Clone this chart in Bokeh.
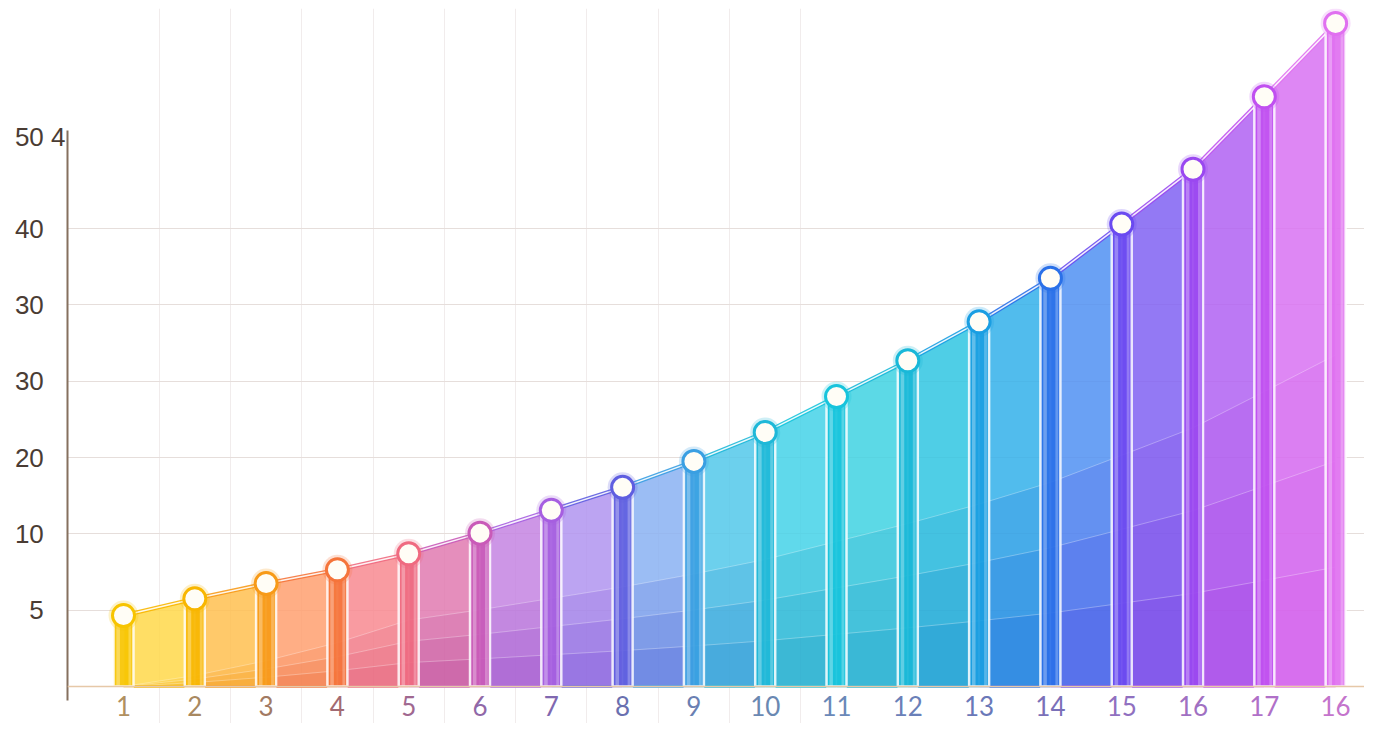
import numpy as np
from bokeh.plotting import figure
from bokeh.models import Range1d, FixedTicker, Span, ColumnDataSource
from bokeh.core.properties import value
from bokeh.transform import dodge
from bokeh.embed import file_html
from bokeh.resources import INLINE

# ---- data ----
x_pos = list(range(1, 19))
x_labels = ["1", "2", "3", "4", "5", "6", "7", "8", "9", "10", "11", "12",
            "13", "14", "15", "16", "17", "16"]
values = [9.3, 11.5, 13.5, 15.3, 17.4, 20.1, 23.1, 26.1, 29.5, 33.3, 38.0,
          42.7, 47.8, 53.5, 60.6, 67.8, 77.3, 86.9]
y_ticks = [10, 20, 30, 40, 50, 60, 72]
y_tick_labels = ["5", "10", "20", "30", "30", "40", "50 4"]

bar_colors = ["#f7c400", "#f8b600", "#f79a18", "#f5743a", "#ef6a80", "#c95ab8",
              "#a65ee0", "#5f5ee0", "#3a9fe2", "#1fb8d8", "#17c4dc", "#19b8d8",
              "#1a9ee2", "#2a70e8", "#6a4af0", "#9a48f0", "#c050f0", "#e070f0"]
seg_colors = ["#ffd84a", "#ffc050", "#ffa070", "#f88a90", "#e07ab0", "#c484e2",
              "#b094f0", "#8ab2f2", "#52c8ea", "#44d2e8", "#40d2e2", "#30c6e2",
              "#32b0ea", "#5090f2", "#8062f2", "#b062f2", "#d872f2"]
band_colors = ["#f0a000", "#f08a00", "#e8602a", "#d84870", "#b03a98", "#8a3ac0",
               "#6a3ad0", "#3a4ad0", "#1878c8", "#0a8ab8", "#0a88c0", "#0a78c8",
               "#1050d8", "#4030e0", "#7030e0", "#a030e0", "#d050e8"]
label_colors = ["#b09060", "#a88860", "#a27a62", "#a26a72", "#a06890", "#9068a8",
                "#8068b0", "#6a70b0", "#6a80b2", "#6a88b2", "#6a88b8", "#6a80b8",
                "#6a78b8", "#7a70b8", "#9070c0", "#a070c2", "#b070c8", "#c474cc"]

NB = "\u00a0"
def pad_label(s):
    # keep labels right-aligned well left of the axis line; the extra "4" of
    # the top label sits next to the axis line as in the reference
    if " " in s:
        a, b = s.split(" ")
        return a + NB + b
    return s + NB * 3

# ---- figure ----
W, H = 1364, 723
p = figure(width=W, height=H, output_backend="svg", toolbar_location=None,
           x_range=Range1d(0.2146, 18.405), y_range=Range1d(-4.85, 88.86),
           min_border_left=67, min_border_right=0, min_border_top=8,
           min_border_bottom=0)
p.outline_line_color = None
p.background_fill_color = "white"
p.border_fill_color = "white"
p.xaxis.visible = False

yax = p.yaxis[0]
yax.ticker = FixedTicker(ticks=y_ticks)
yax.major_label_overrides = {t: pad_label(l) for t, l in zip(y_ticks, y_tick_labels)}
yax.axis_line_color = "#85705f"
yax.axis_line_width = 2
yax.bounds = (-1.8, 72.9)
yax.major_tick_line_color = None
yax.minor_tick_line_color = None
yax.major_tick_in = 0
yax.major_tick_out = 0
yax.major_label_standoff = 2
yax.major_label_text_font_size = "26px"
yax.major_label_text_color = "#4a3c34"
yax.major_label_text_font = "Liberation Sans"

p.ygrid.ticker = FixedTicker(ticks=y_ticks[:-1])
p.ygrid.grid_line_color = "#e6dedb"
p.ygrid.grid_line_width = 1
p.xgrid.ticker = FixedTicker(ticks=[x + 0.5 for x in x_pos[:10]])
p.xgrid.grid_line_color = "#f1ecec"

# ---- area segments ----
n = len(values)
seg_xs = [[x_pos[i], x_pos[i], x_pos[i + 1], x_pos[i + 1]] for i in range(n - 1)]
seg_ys = [[0, values[i], values[i + 1], 0] for i in range(n - 1)]
p.patches(seg_xs, seg_ys, fill_color=seg_colors, fill_alpha=0.85,
          line_color="white", line_width=2, line_alpha=0.7)

# darker translucent bands in lower part
for frac, alpha in [(0.5, 0.14), (0.34, 0.16), (0.18, 0.18)]:
    band_ys = [[0, frac * values[i] * min(1, i / 4), frac * values[i + 1] * min(1, (i + 1) / 4), 0]
               for i in range(n - 1)]
    p.patches(seg_xs, band_ys, fill_color=band_colors, fill_alpha=alpha,
              line_color="white", line_alpha=0.3, line_width=1)

# baseline
p.add_layout(Span(location=0, dimension="width", line_color="#e6c8a8", line_width=1.5))
p.segment(x0=x_pos[:-1], y0=[0] * (n - 1), x1=x_pos[1:], y1=[0] * (n - 1),
          line_color=bar_colors[1:], line_width=2.5)

# top edge line
p.segment(x0=x_pos[:-1], y0=values[:-1], x1=x_pos[1:], y1=values[1:],
          line_color=bar_colors[1:], line_width=4, line_alpha=0.9)
p.segment(x0=x_pos[:-1], y0=values[:-1], x1=x_pos[1:], y1=values[1:],
          line_color="white", line_width=1.5, line_alpha=0.9)

# bars (glass columns)
src = ColumnDataSource(dict(x=x_pos, top=values, color=bar_colors))
p.vbar(x="x", top="top", bottom=0, width=0.28, source=src, fill_color="color",
       fill_alpha=0.92, line_color="white", line_width=2.5, line_alpha=0.85)
p.vbar(x=dodge("x", -0.075, range=p.x_range), top="top", bottom=0, width=0.05,
       source=src, fill_color="white", fill_alpha=0.3, line_color=None)
p.vbar(x=dodge("x", 0.09, range=p.x_range), top="top", bottom=0, width=0.04,
       source=src, fill_color="white", fill_alpha=0.25, line_color=None)

# markers
p.scatter(x="x", y="top", source=src, size=30, fill_color="color", fill_alpha=0.22,
          line_color=None)
p.scatter(x="x", y="top", source=src, size=22, fill_color="#fffdf6",
          line_color="color", line_width=3)

# x labels (coloured)
p.text(x=x_pos, y=[-2.62] * n, text=x_labels, text_color=label_colors,
       text_font_size="26px", text_align="center", text_baseline="middle",
       text_font=value("Lato"))

open("out.html", "w").write(file_html(p, INLINE))
